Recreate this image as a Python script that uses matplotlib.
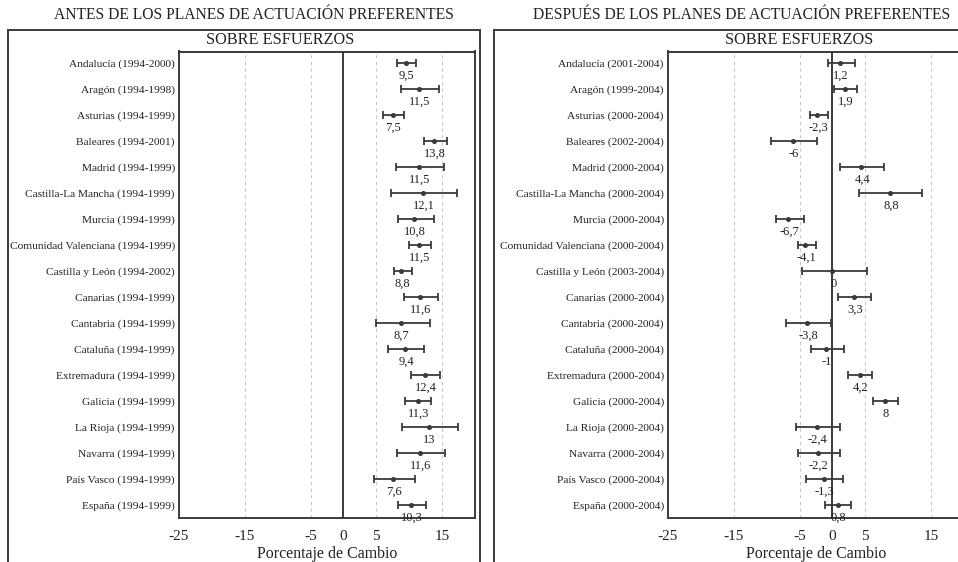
import matplotlib
matplotlib.use('Agg')
import matplotlib.pyplot as plt
from matplotlib.patches import Rectangle

plt.rcParams['font.family'] = ['Liberation Serif', 'DejaVu Serif']

# --- data -------------------------------------------------------------
regions = ['Andalucía', 'Aragón', 'Asturias', 'Baleares', 'Madrid',
           'Castilla-La Mancha', 'Murcia', 'Comunidad Valenciana',
           'Castilla y León', 'Canarias', 'Cantabria', 'Cataluña',
           'Extremadura', 'Galicia', 'La Rioja', 'Navarra', 'País Vasco',
           'España']

antes_periods = ['1994-2000', '1994-1998', '1994-1999', '1994-2001',
                 '1994-1999', '1994-1999', '1994-1999', '1994-1999',
                 '1994-2002', '1994-1999', '1994-1999', '1994-1999',
                 '1994-1999', '1994-1999', '1994-1999', '1994-1999',
                 '1994-1999', '1994-1999']
antes_val = [9.5, 11.5, 7.5, 13.8, 11.5, 12.1, 10.8, 11.5, 8.8,
             11.6, 8.7, 9.4, 12.4, 11.3, 13.0, 11.6, 7.6, 10.3]
antes_lo = [8.2, 8.8, 6.0, 12.2, 8.0, 7.3, 8.3, 9.9, 7.7,
            9.2, 5.0, 6.8, 10.3, 9.4, 8.9, 8.1, 4.6, 8.3]
antes_hi = [11.1, 14.6, 9.2, 15.7, 15.3, 17.3, 13.8, 13.3, 10.4,
            14.4, 13.1, 12.2, 14.7, 13.3, 17.4, 15.4, 10.9, 12.5]

despues_periods = ['2001-2004', '1999-2004', '2000-2004', '2002-2004',
                   '2000-2004', '2000-2004', '2000-2004', '2000-2004',
                   '2003-2004', '2000-2004', '2000-2004', '2000-2004',
                   '2000-2004', '2000-2004', '2000-2004', '2000-2004',
                   '2000-2004', '2000-2004']
despues_val = [1.2, 1.9, -2.3, -6.0, 4.4, 8.8, -6.7, -4.1, 0.0,
               3.3, -3.8, -1.0, 4.2, 8.0, -2.4, -2.2, -1.3, 0.8]
despues_lo = [-0.6, 0.2, -3.4, -9.4, 1.1, 4.0, -8.6, -5.3, -4.6,
              0.9, -7.0, -3.3, 2.4, 6.2, -5.6, -5.2, -4.0, -1.1]
despues_hi = [3.4, 3.8, -0.7, -2.3, 7.8, 13.6, -4.3, -2.5, 5.2,
              5.8, -0.2, 1.7, 6.0, 9.9, 1.2, 1.1, 1.6, 2.8]

xticks = [-25, -15, -5, 0, 5, 15]
grid_x = [-15, -5, 5, 15]

W, H = 958, 562
LINE = '#3a3a3a'
TEXT = '#222222'

fig = plt.figure(figsize=(W / 100, H / 100), dpi=100)


def fmt(v):
    s = ('%.1f' % v).rstrip('0').rstrip('.')
    if s == '-0':
        s = '0'
    return s.replace('.', ',')


def panel(left_px, periods, vals, lo, hi):
    ax = fig.add_axes([left_px / W, (H - 518) / H, 296 / W, (518 - 51.5) / H])
    y = list(range(len(regions)))
    xerr = [[v - l for v, l in zip(vals, lo)], [h - v for v, h in zip(vals, hi)]]
    for g in grid_x:
        ax.axvline(g, color='#c8c8c8', lw=0.8, ls=(0, (3, 3)), zorder=0)
    ax.axvline(0, color=LINE, lw=1.4, zorder=1)
    ax.errorbar(vals, y, xerr=xerr, fmt='o', ms=2.6, color=LINE,
                ecolor=LINE, elinewidth=1.3, capsize=3, capthick=1.3, zorder=3)
    for v, yy in zip(vals, y):
        ax.annotate(fmt(v), (v, yy), xytext=(0.5, -5), textcoords='offset points',
                    ha='center', va='top', fontsize=9, color=TEXT)
    ax.set_xlim(-25, 20)
    ax.set_ylim(len(regions) - 0.5, -0.45)
    ax.set_yticks(y)
    ax.set_yticklabels(['%s (%s)' % (r, p) for r, p in zip(regions, periods)],
                       fontsize=8.2, color=TEXT)
    ax.set_xticks(xticks)
    ax.set_xticklabels([str(t) for t in xticks], fontsize=11, color=TEXT)
    ax.set_xticks([-25], minor=True)
    ax.tick_params(axis='both', which='major', length=0, pad=3)
    ax.tick_params(axis='x', which='major', pad=9)
    ax.tick_params(axis='x', which='minor', length=7, width=1.4, color=LINE)
    ax.set_xlabel('Porcentaje de Cambio', fontsize=11.4, color=TEXT, labelpad=2)
    for s in ax.spines.values():
        s.set_color(LINE)
        s.set_linewidth(1.4)
    return ax


panel(179, antes_periods, antes_val, antes_lo, antes_hi)
panel(668, despues_periods, despues_val, despues_lo, despues_hi)

# outer frames (cropped at figure edges like the original)
for x0, x1 in [(8, 480), (493.7, 1000)]:
    fig.patches.append(Rectangle((x0 / W, -0.1), (x1 - x0) / W, (H - 30) / H + 0.1,
                                 transform=fig.transFigure, fill=False,
                                 edgecolor=LINE, lw=1.4))

fig.text(254 / W, 1 - 15 / H, 'ANTES DE LOS PLANES DE ACTUACIÓN PREFERENTES',
         ha='center', va='center', fontsize=11.25, color=TEXT)
fig.text(742 / W, 1 - 15 / H, 'DESPUÉS DE LOS PLANES DE ACTUACIÓN PREFERENTES',
         ha='center', va='center', fontsize=11.25, color=TEXT)
fig.text(280 / W, 1 - 40 / H, 'SOBRE ESFUERZOS', ha='center', va='center',
         fontsize=11.7, color=TEXT)
fig.text(799 / W, 1 - 40 / H, 'SOBRE ESFUERZOS', ha='center', va='center',
         fontsize=11.7, color=TEXT)

fig.savefig('out.png', dpi=100)
